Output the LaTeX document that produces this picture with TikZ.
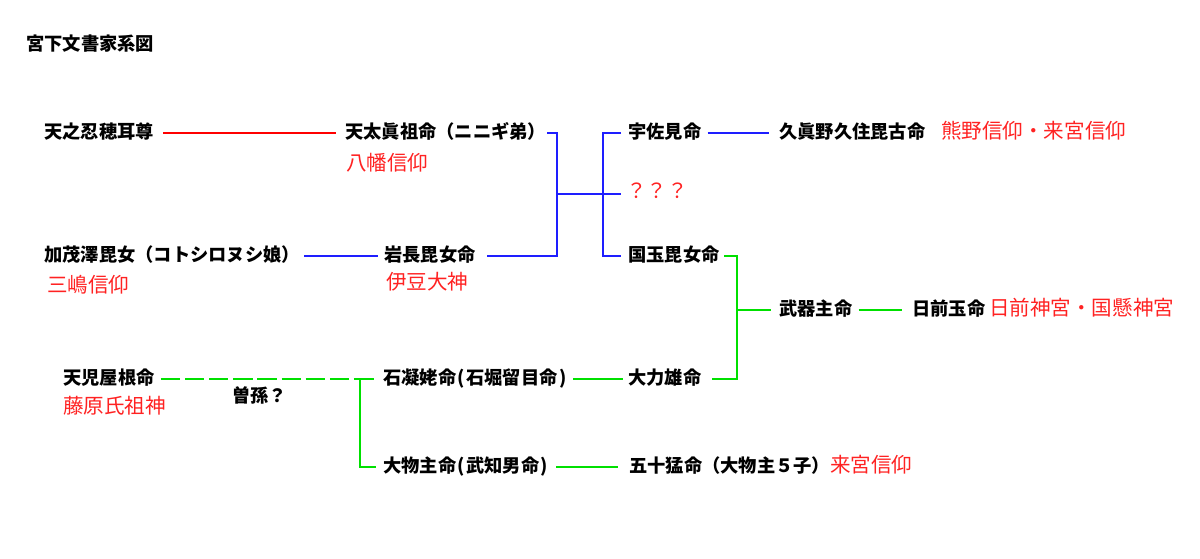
\documentclass[tikz,border=0pt]{standalone}
\usepackage{fontspec}
\setmainfont{Noto Sans CJK JP}
\definecolor{lred}{RGB}{255,0,0}
\definecolor{tred}{RGB}{255,34,34}
\definecolor{lblue}{RGB}{30,30,255}
\definecolor{lgreen}{RGB}{0,224,0}
\newcommand\hp[1]{\makebox[0.55em]{#1}}
\tikzset{
  blk/.style={anchor=west, inner sep=0pt, text height=0.82em, text depth=0.07em,
    font=\fontsize{13.7pt}{16pt}\selectfont\bfseries, text=black},
  rtxt/.style={anchor=west, inner sep=0pt, text height=0.82em, text depth=0.07em,
    font=\fontsize{15.4pt}{18pt}\selectfont, text=tred},
  rl/.style={draw=lred, line width=1.5pt},
  bl/.style={draw=lblue, line width=1.5pt},
  gl/.style={draw=lgreen, line width=1.5pt},
}
\begin{document}
\begin{tikzpicture}[x=0.75pt,y=-0.75pt]
\useasboundingbox (0,0) rectangle (1200,559);
\fill[white] (0,0) rectangle (1200,559);

% title
\node[blk] (title) at (26,46) {宮下文書家系図};

% row 1
\node[blk] (n1) at (44,134) {天之忍穂耳尊};
\node[blk] (n2) at (345,134) {天太眞祖命（ニニギ弟）};
\node[rtxt] (r1) at (346,166) {八幡信仰};

% row 2
\node[blk] (n3) at (44,257) {加茂澤毘女（コトシロヌシ娘）};
\node[rtxt] (r2) at (47,288) {三嶋信仰};
\node[blk] (n4) at (384,257) {岩長毘女命};
\node[rtxt] (r3) at (386,285) {伊豆大神};

% right column
\node[blk] (n5) at (628,134) {宇佐見命};
\node[blk] (n6) at (779,134) {久眞野久住毘古命};
\node[rtxt] (r4) at (941,134) {熊野信仰・来宮信仰};
\node[rtxt] (q) at (626,194) {？？？};
\node[blk] (n7) at (628,257) {国玉毘女命};
\node[blk] (n8) at (779,311) {武器主命};
\node[blk] (n9) at (912,311) {日前玉命};
\node[rtxt] (r5) at (989,311) {日前神宮・国懸神宮};

% bottom
\node[blk] (n10) at (63,380) {天児屋根命};
\node[rtxt] (r6) at (63,409) {藤原氏祖神};
\node[blk] (s) at (232,398) {曽孫？};
\node[blk] (n11) at (383,380) {石凝姥命\hp{(}石堀留目命\hp{)}};
\node[blk] (n12) at (628,380) {大力雄命};
\node[blk] (n13) at (383,468) {大物主命\hp{(}武知男命\hp{)}};
\node[blk] (n14) at (629,468) {五十猛命（大物主５子）};
\node[rtxt] (r7) at (830,468) {来宮信仰};

% junctions
\coordinate (j1) at (557,133);
\coordinate (jm) at (557,194);
\coordinate (j2) at (557,256);
\coordinate (k1) at (603,133);
\coordinate (k2) at (603,256);
\coordinate (g1) at (737,256);
\coordinate (gm) at (737,310);
\coordinate (g2) at (737,379);
\coordinate (h1) at (360,379);
\coordinate (h2) at (360,467);

% red
\draw[rl] ([xshift=6.75pt]n1.east |- j1) -- ([xshift=-6.75pt]n2.west |- j1);

% blue
\draw[bl] ([xshift=3pt]n3.east |- j2) -- ([xshift=-4.5pt]n4.west |- j2);
\draw[bl] ([xshift=0.75pt]n2.east |- j1) -- (j1) -- (j2) -- ([xshift=8.6pt]n4.east |- j2);
\draw[bl] (jm) -- ([xshift=-3.75pt]q.west |- jm);
\draw[bl] ([xshift=-5.25pt]n5.west |- k1) -- (k1) -- (k2) -- ([xshift=-5.25pt]n7.west |- k2);
\draw[bl] ([xshift=4.5pt]n5.east |- k1) -- ([xshift=-7.5pt]n6.west |- k1);

% green
\draw[gl] ([xshift=3.4pt]n7.east |- g1) -- (g1) -- (g2) -- ([xshift=7.8pt]n12.east |- g2);
\draw[gl] (gm) -- ([xshift=-6pt]n8.west |- gm);
\draw[gl] ([xshift=4.5pt]n8.east |- gm) -- ([xshift=-7.5pt]n9.west |- gm);
\draw[gl, dash pattern=on 14.5pt off 3.6pt] ([xshift=4.5pt]n10.east |- h1) -- (h1);
\draw[gl] (h1) -- ([xshift=-7pt]n11.west |- h1);
\draw[gl] (h1) -- (h2) -- ([xshift=-5pt]n13.west |- h2);
\draw[gl] ([xshift=3.75pt]n11.east |- h1) -- ([xshift=-3.4pt]n12.west |- h1);
\draw[gl] ([xshift=4.9pt]n13.east |- h2) -- ([xshift=-8.6pt]n14.west |- h2);
\end{tikzpicture}
\end{document}
